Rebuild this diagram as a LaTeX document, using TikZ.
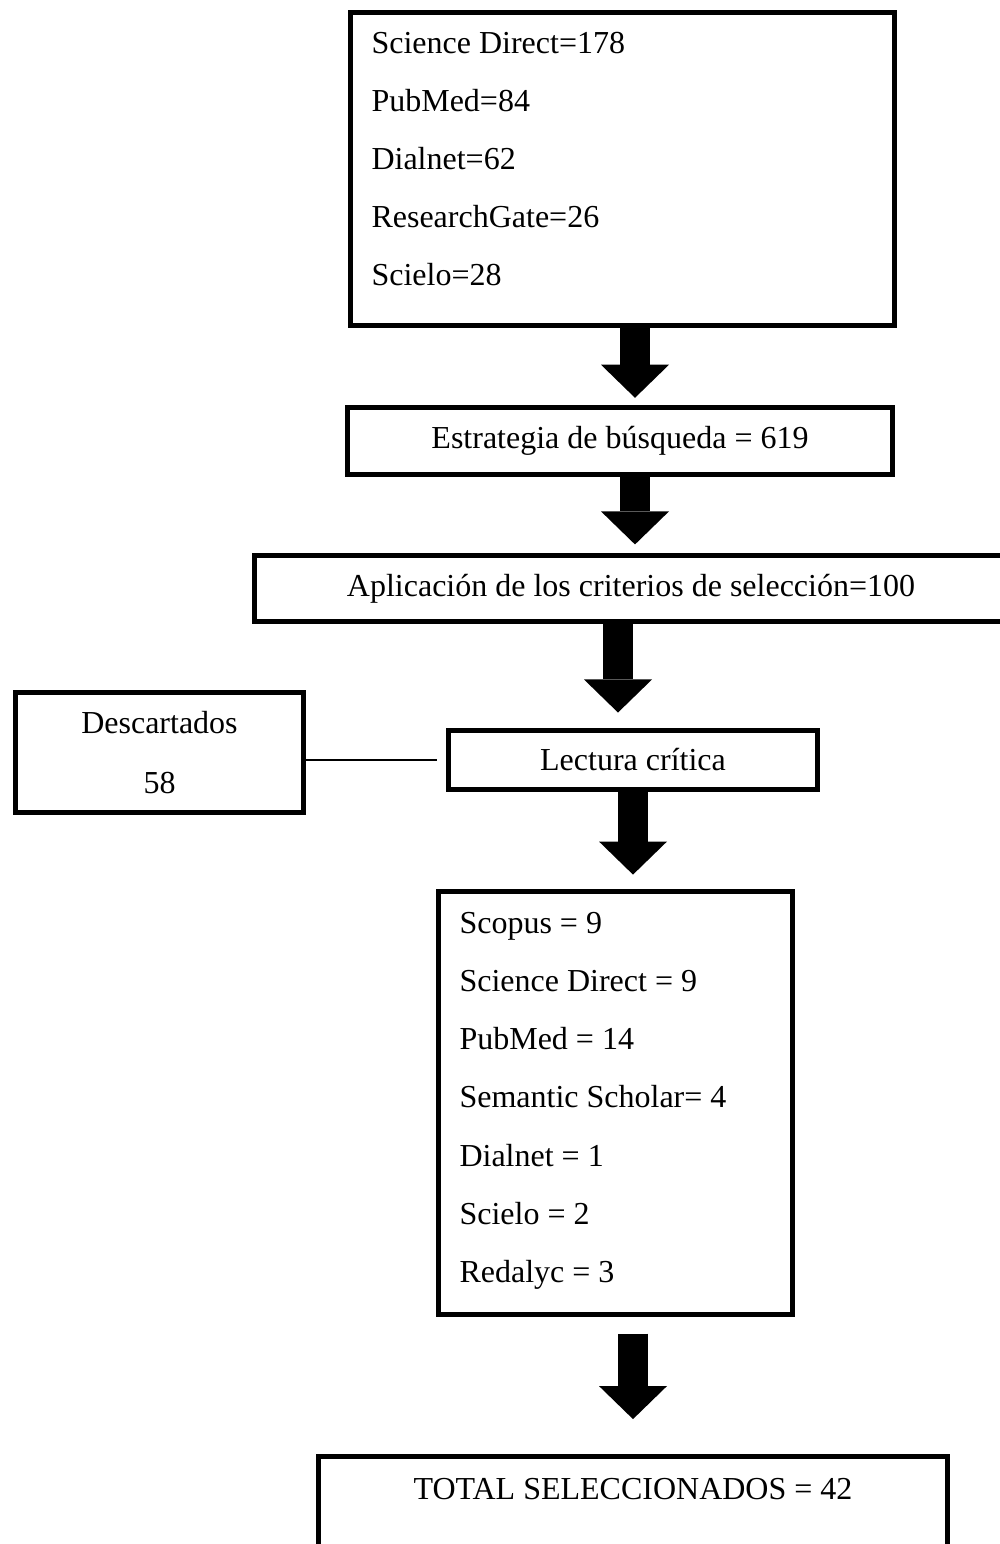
\documentclass[tikz,border=0pt]{standalone}
\usepackage{fontspec}
\setmainfont{Liberation Serif}
\usetikzlibrary{arrows.meta}
\begin{document}
\begin{tikzpicture}[x=0.375pt, y=-0.375pt,
  box/.style={draw, line width=1.9pt, rectangle, inner sep=0pt, align=center,
              font=\fontsize{12}{14}\selectfont},
  txt/.style={inner sep=0pt, font=\fontsize{12}{14}\selectfont},
  bigarrow/.style={line width=11.6pt, -{Triangle[width=25.5pt,length=12.4pt,line width=0pt]}},
  thinline/.style={line width=1pt}]
\useasboundingbox (0,0) rectangle (1000,1544);
\clip (0,0) rectangle (1000,1544);
\fill[white] (0,0) rectangle (1000,1544);

% boxes
\node[box, minimum width=204pt, minimum height=117.4pt] (b1) at (622.5,169) {};
\node[box, minimum width=204.4pt, minimum height=24.9pt] (b2) at (620,441) {Estrategia de búsqueda = 619};
\node[box, minimum width=282.4pt, minimum height=24.75pt] (b3) at (631,588.5) {Aplicación de los criterios de selección=100};
\node[box, minimum width=108pt, minimum height=45pt, font=\fontsize{12}{22.5}\selectfont] (desc) at (159.5,752.5) {Descartados\\58};
\node[box, minimum width=138.4pt, minimum height=22.1pt] (lect) at (633,760) {Lectura crítica};
\node[box, minimum width=132.75pt, minimum height=158.6pt] (b5) at (615.5,1103) {};
\node[box, minimum width=235.9pt, minimum height=112.5pt, anchor=north] (b6) at (633,1453.5) {};
\node[txt, anchor=base] (t6) at (633,1499) {TOTAL SELECCIONADOS = 42};

% list texts
\foreach \t [count=\i from 0] in {Science Direct=178, PubMed=84, Dialnet=62, ResearchGate=26, Scielo=28}
  \node[txt, anchor=base west] (l1-\i) at (371,{53+58*\i}) {\t};
\foreach \t [count=\i from 0] in {Scopus = 9, Science Direct = 9, PubMed = 14, Semantic Scholar= 4, Dialnet = 1, Scielo = 2, Redalyc = 3}
  \node[txt, anchor=base west] (l5-\i) at (459,{933+58.3*\i}) {\t};

% arrow columns
\coordinate (c1) at (635,0);
\coordinate (c2) at (635,0);
\coordinate (c3) at (618,0);
\coordinate (c4) at (633,0);
\coordinate (c5) at (633,0);

\draw[bigarrow, shorten >=2.8pt] (b1.south -| c1) -- (b2.north -| c1);
\draw[bigarrow, shorten >=3.2pt] (b2.south -| c2) -- (b3.north -| c2);
\draw[bigarrow, shorten >=5.8pt] (b3.south -| c3) -- (lect.north -| c3);
\draw[bigarrow, shorten >=5.4pt] (lect.south -| c4) -- (b5.north -| c4);
\draw[bigarrow, shorten <=6.2pt, shorten >=12.9pt] (b5.south -| c5) -- (b6.north -| c5);

% side connector
\draw[thinline, shorten >=3.4pt] (desc.east |- lect.west) -- (lect.west);
\end{tikzpicture}
\end{document}
